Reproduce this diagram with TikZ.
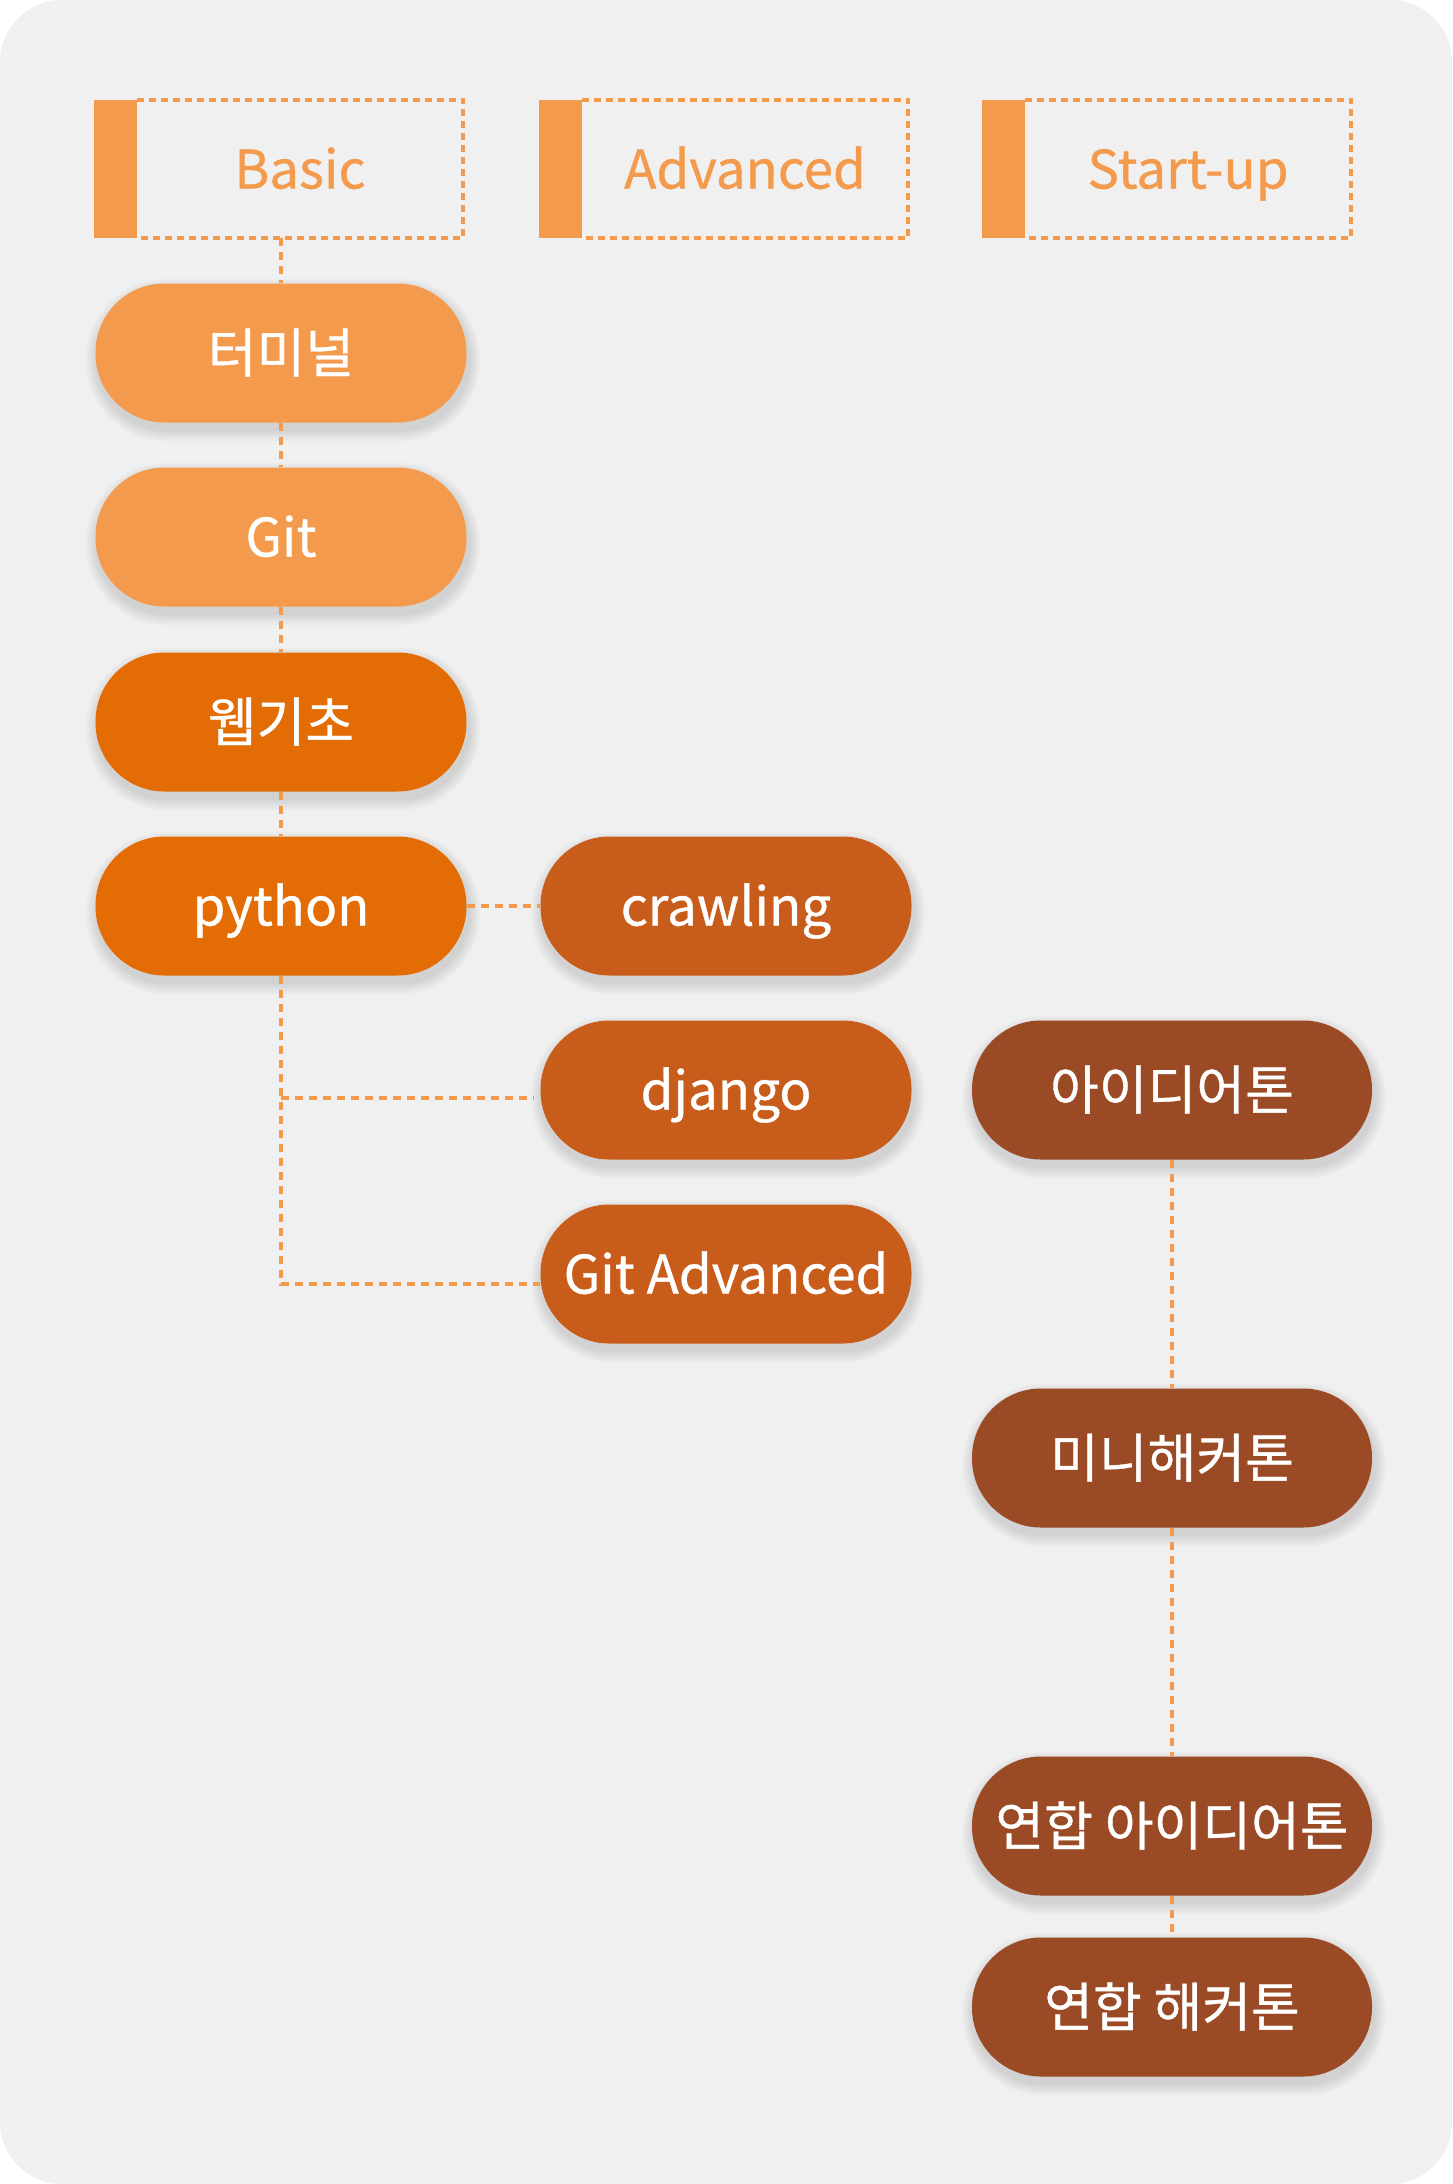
\documentclass[tikz,border=0pt]{standalone}
\usepackage{fontspec}
\setmainfont{Noto Sans CJK KR}
\newfontfamily\medfont{Noto Sans CJK KR}[FakeBold=0.7]
\definecolor{bgc}{HTML}{F0F0F0}
\definecolor{lo}{HTML}{F39A4D}
\definecolor{mo}{HTML}{E36C05}
\definecolor{do}{HTML}{C85C1A}
\definecolor{br}{HTML}{9A4A24}
\pgfdeclarelayer{bglayer}
\pgfdeclarelayer{shadowlayer}
\pgfsetlayers{bglayer,shadowlayer,main}
\tikzset{
  pill/.style={rounded corners=69pt, minimum width=371pt, minimum height=139pt, inner sep=0pt,
    text=white, font=\medfont\fontsize{53}{58}\selectfont, text height=39pt, text depth=0pt},
  wide/.style={pill, minimum width=400pt},
  hdr/.style={minimum width=326pt, minimum height=138pt, inner sep=0pt, text=lo,
    font=\medfont\fontsize{53}{58}\selectfont, text height=39pt, text depth=0pt},
  hdrdash/.style={draw=lo, line width=3.5pt, dash pattern=on 7pt off 5pt},
  conn/.style={draw=lo, line width=3.5pt, dash pattern=on 8pt off 6pt}
}
\begin{document}
\begin{tikzpicture}[x=1pt,y=-1pt]
\useasboundingbox (0,0) rectangle (1452,2184);
\begin{pgfonlayer}{bglayer}
\fill[white] (0,0) rectangle (1452,2184);
\fill[bgc, rounded corners=62pt] (0,0) rectangle (1452,2184);
\end{pgfonlayer}
% headers
\foreach \nm/\cx/\txt in {basic/300/Basic, adv/745/Advanced, start/1188/Start-up}{
  \node[hdr] (\nm) at (\cx,169) {\txt};
  \fill[lo] ([xshift=-43pt]\nm.north west) rectangle (\nm.south west);
  \draw[hdrdash] (\nm.north west) -- (\nm.north east) -- (\nm.south east) -- (\nm.south west);
}
% column 1
\node[pill, fill=lo] (term) at (281,353) {터미널};
\node[pill, fill=lo] (git) at (281,537) {Git};
\node[pill, fill=mo] (web) at (281,722) {웹기초};
\node[pill, fill=mo] (py) at (281,906) {python};
% column 2
\node[pill, fill=do] (crawl) at (726,906) {crawling};
\node[pill, fill=do] (dj) at (726,1090) {django};
\node[pill, fill=do] (gadv) at (726,1274) {Git Advanced};
% column 3
\node[wide, fill=br] (idea) at (1172,1090) {아이디어톤};
\node[wide, fill=br] (mini) at (1172,1458) {미니해커톤};
\node[wide, fill=br] (uidea) at (1172,1826) {연합 아이디어톤};
\node[wide, fill=br] (uhack) at (1172,2007) {연합 해커톤};
% soft shadows
\begin{pgfonlayer}{shadowlayer}
\foreach \n in {term,git,web,py,crawl,dj,gadv,idea,mini,uidea,uhack}{
  \foreach \i in {1,...,10}{
    \fill[black, opacity=0.011, rounded corners=69pt+\i*1.2pt]
      ([xshift=-\i*1.2pt+2pt, yshift=\i*1.2pt-7pt]\n.north west) rectangle
      ([xshift=\i*1.2pt+2pt, yshift=-\i*1.2pt-7pt]\n.south east);
  }
}
\end{pgfonlayer}
% connectors
\draw[conn] (term.north |- basic.south) -- (term.north);
\draw[conn] (term) -- (git);
\draw[conn] (git) -- (web);
\draw[conn] (web) -- (py);
\draw[conn] (py) -- (crawl);
\coordinate (djin) at ([yshift=-8pt]dj.west);
\coordinate (gain) at ([yshift=-10pt]gadv.west);
\draw[conn] (py.south) |- (gain);
\draw[conn] (py.south |- djin) -- ([xshift=-6pt]djin);
\draw[conn] (idea) -- (mini);
\draw[conn] (mini) -- (uidea);
\draw[conn] (uidea) -- (uhack);
\end{tikzpicture}
\end{document}
